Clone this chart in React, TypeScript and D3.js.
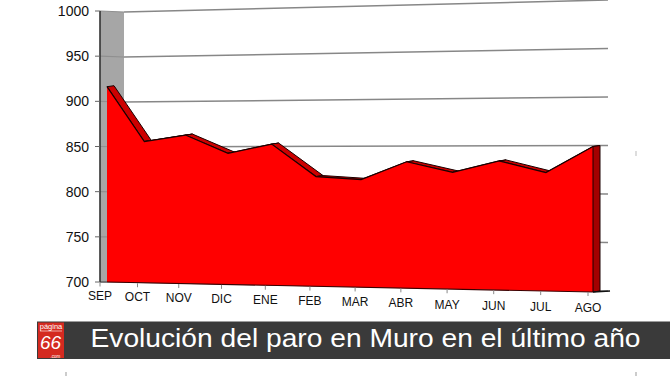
import React from 'react';
import * as d3 from 'd3';

const months = ['SEP', 'OCT', 'NOV', 'DIC', 'ENE', 'FEB', 'MAR', 'ABR', 'MAY', 'JUN', 'JUL', 'AGO'];
const paro = [917, 856, 863, 843, 853, 818, 815, 834, 823, 835, 823, 850];
const yTicks = [700, 750, 800, 850, 900, 950, 1000];
const title = 'Evolución del paro en Muro en el último año';

const FONT = "'Liberation Sans', Arial, Helvetica, sans-serif";

export default function App() {
  const n = months.length;
  // slight perspective: spacing grows toward the right
  const idxP = d3.scalePow().exponent(1.07).domain([0, n - 1]);
  const xFront = idxP.copy().range([107, 593]);
  const frac = (i: number) => (xFront(i) - 107) / (593 - 107);
  const baseFront = (i: number) => 282 + frac(i) * 10;
  const topFront = (i: number) => 12 - frac(i) * 11;
  const yFront = (i: number, v: number) =>
    d3.scaleLinear().domain([700, 1000]).range([baseFront(i), topFront(i)])(v);
  const dx = 7, dy = -1;

  const yAxisL = d3.scaleLinear().domain([700, 1000]).range([282, 11]);
  const yBackL = d3.scaleLinear().domain([700, 1000]).range([282, 12]);
  const yBackR = d3.scaleLinear().domain([700, 1000]).range([291, 0]);
  const xLabelIdx = idxP.copy().range([100, 588]);
  const labelBase = d3.scaleLinear().domain([100, 588]).range([300, 312]);
  const tickBase = d3.scaleLinear().domain([100, 588]).range([282.5, 292]);

  const area = d3.area<number>()
    .x((_, i) => xFront(i))
    .y0((_, i) => baseFront(i))
    .y1((d, i) => yFront(i, d));
  const topLine = d3.line<number>()
    .x((_, i) => xFront(i))
    .y((d, i) => yFront(i, d));

  const pts = paro.map((v, i) => [xFront(i), yFront(i, v)] as [number, number]);
  const ridges = pts.slice(0, -1).map((p, i) => {
    const q = pts[i + 1];
    return `M${p[0]},${p[1]}L${q[0]},${q[1]}L${q[0] + dx},${q[1] + dy}L${p[0] + dx},${p[1] + dy}Z`;
  });
  const last = pts[n - 1];
  const sideFace = `M${last[0]},${last[1]}L${last[0] + dx},${last[1] + dy}L${last[0] + dx},${baseFront(n - 1) + dy}L${last[0]},${baseFront(n - 1)}Z`;

  return (
    <svg width={670} height={377} style={{ position: 'fixed', left: 0, top: 0, background: '#fff' }}
      fontFamily={FONT}>
      {/* left side wall */}
      <path d={`M100,${yAxisL(1000)}L124,${yBackL(1000)}L124,${yBackL(700)}L100,${yAxisL(700)}Z`} fill="#a6a6a6" />
      {/* gridlines */}
      {yTicks.map(v => (
        <g key={v}>
          <line x1={100} y1={yAxisL(v)} x2={124} y2={yBackL(v)} stroke="#8f8f8f" strokeWidth={1.2} />
          <line x1={124} y1={yBackL(v)} x2={608} y2={yBackR(v)} stroke="#878787" strokeWidth={1.5} />
        </g>
      ))}
      {/* ridge (top faces) */}
      {ridges.map((d, i) => (
        <path key={i} d={d} fill="#cc0000" stroke="#1a0000" strokeWidth={1} strokeLinejoin="round" />
      ))}
      {/* front face */}
      <path d={area(paro) || ''} fill="#ff0000" />
      <path d={topLine(paro) || ''} fill="none" stroke="#1a0000" strokeWidth={1.2} />
      {/* right side face */}
      <path d={sideFace} fill="#a30000" stroke="#1a0000" strokeWidth={1} />
      {/* base */}
      <line x1={100} y1={282} x2={xFront(0)} y2={baseFront(0)} stroke="#555" strokeWidth={1.2} />
      <line x1={xFront(0)} y1={baseFront(0)} x2={xFront(n - 1)} y2={baseFront(n - 1)} stroke="#3a0000" strokeWidth={1.2} />
      <line x1={xFront(n - 1)} y1={baseFront(n - 1)} x2={610} y2={291} stroke="#111" strokeWidth={1.4} />
      {/* left axis */}
      <line x1={100} y1={yAxisL(1000)} x2={100} y2={yAxisL(700)} stroke="#333" strokeWidth={1.6} />
      {yTicks.map(v => (
        <g key={'t' + v}>
          <line x1={95} y1={yAxisL(v)} x2={100} y2={yAxisL(v)} stroke="#666" strokeWidth={1} />
          <text x={89} y={yAxisL(v)} dy="0.36em" textAnchor="end" fontSize={14} fill="#111">{v}</text>
        </g>
      ))}
      {/* x axis labels */}
      {months.map((m, i) => {
        const x = xLabelIdx(i);
        return (
          <g key={m}>
            <line x1={x} y1={tickBase(x)} x2={x} y2={tickBase(x) + 4} stroke="#888" strokeWidth={1} />
            <text x={x} y={labelBase(x)} textAnchor="middle" fontSize={12} fill="#111">{m}</text>
          </g>
        );
      })}
      {/* footer */}
      <rect x={37} y={321.5} width={633} height={37.5} fill="#3a3a3a" />
      <rect x={38} y={322.5} width={26} height={35.5} fill="#d42a20" />
      <text x={51} y={329} textAnchor="middle" fontSize={7.5} fill="#fff">página</text>
      <line x1={40} y1={331} x2={62} y2={331} stroke="#fff" strokeWidth={0.6} />
      <text x={50.5} y={349} textAnchor="middle" fontSize={19} fontStyle="italic" fill="#fff">66</text>
      <text x={55.5} y={357.5} textAnchor="middle" fontSize={4.5} fill="#fff">.com</text>
      <text x={90.5} y={347} fontSize={26.5} fill="#fff" textLength={550} lengthAdjust="spacingAndGlyphs">{title}</text>
      {/* stray marks */}
      <line x1={66} y1={372} x2={66} y2={376} stroke="#999" strokeWidth={1} />
      <line x1={636} y1={372} x2={636} y2={376} stroke="#999" strokeWidth={1} />
      <line x1={636} y1={151} x2={636} y2={156} stroke="#bbb" strokeWidth={1} />
    </svg>
  );
}
